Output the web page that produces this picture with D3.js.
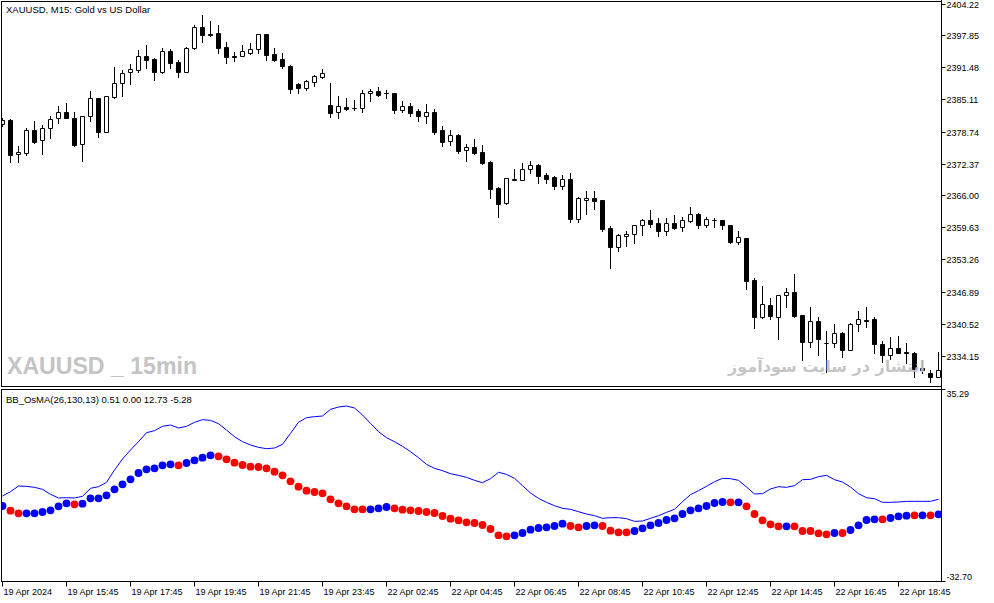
<!DOCTYPE html>
<html>
<head>
<meta charset="utf-8">
<script src="https://cdn.jsdelivr.net/npm/d3@7"></script>
<style>
  body { margin: 0; background: #ffffff; }
  text { font-family: "Liberation Sans", Arial, sans-serif; font-size: 9px; fill: #000; }
</style>
</head>
<body>
<div id="chart"></div>
<script>
// XAUUSD M15 candles, 19 Apr 2024 13:45 .. 22 Apr 2024 19:00
const openPrices = [
  2380.27, 2381.06, 2374.33, 2374.52, 2379.08, 2377.10, 2379.48, 2381.46, 2382.65, 2381.46,
  2376.31, 2381.86, 2385.42, 2378.69, 2385.62, 2388.40, 2390.58, 2390.97, 2393.75, 2393.15,
  2390.58, 2394.74, 2392.56, 2390.58, 2395.33, 2399.50, 2398.11, 2398.31, 2395.53, 2393.75,
  2393.75, 2394.34, 2395.14, 2398.11, 2394.15, 2393.15, 2391.77, 2388.20, 2387.41, 2388.60,
  2389.59, 2384.04, 2382.65, 2383.64, 2383.44, 2383.44, 2386.42, 2386.81, 2386.42, 2386.42,
  2383.05, 2383.84, 2382.85, 2381.86, 2382.65, 2379.08, 2376.90, 2378.09, 2375.12, 2375.71,
  2374.72, 2372.74, 2367.59, 2364.41, 2369.17, 2369.17, 2371.35, 2372.14, 2370.16, 2369.77,
  2367.98, 2369.37, 2361.24, 2365.01, 2365.60, 2365.01, 2359.46, 2355.69, 2357.88, 2358.27,
  2360.06, 2361.05, 2360.45, 2358.87, 2360.45, 2359.66, 2360.85, 2362.24, 2360.06, 2361.05,
  2361.05, 2360.06, 2356.69, 2357.48, 2349.15, 2341.82, 2344.20, 2341.82, 2346.18, 2346.78,
  2342.22, 2336.87, 2341.03, 2336.67, 2336.67, 2338.65, 2335.28, 2340.43, 2341.23, 2341.42,
  2336.47, 2334.29, 2335.68, 2334.89, 2334.69, 2331.71, 2330.72, 2329.93
];
const highPrices = [
  2381.46, 2381.26, 2375.91, 2379.48, 2380.87, 2380.07, 2381.86, 2383.84, 2384.43, 2382.65,
  2381.86, 2386.81, 2385.50, 2385.82, 2391.57, 2390.97, 2392.16, 2394.94, 2395.93, 2393.35,
  2395.33, 2395.14, 2392.96, 2395.53, 2399.89, 2401.88, 2400.69, 2399.89, 2396.52, 2394.54,
  2395.93, 2396.33, 2398.20, 2398.20, 2395.33, 2394.34, 2391.96, 2388.40, 2388.99, 2389.98,
  2391.17, 2388.40, 2385.82, 2385.42, 2385.03, 2387.01, 2387.21, 2387.61, 2387.01, 2386.50,
  2384.83, 2384.43, 2383.24, 2384.23, 2383.24, 2379.88, 2379.08, 2378.20, 2376.31, 2377.30,
  2376.11, 2372.80, 2367.78, 2369.57, 2371.35, 2372.54, 2372.94, 2372.34, 2370.56, 2369.85,
  2370.16, 2370.56, 2365.80, 2366.99, 2366.99, 2365.10, 2359.86, 2358.27, 2358.87, 2360.06,
  2361.24, 2363.03, 2361.44, 2361.44, 2362.04, 2361.64, 2363.62, 2362.43, 2361.64, 2361.44,
  2361.10, 2360.10, 2358.87, 2357.55, 2349.55, 2347.96, 2345.59, 2346.18, 2347.57, 2350.34,
  2342.30, 2343.80, 2341.82, 2339.04, 2340.43, 2338.85, 2340.63, 2343.01, 2343.80, 2341.82,
  2337.06, 2337.86, 2338.05, 2336.67, 2334.89, 2333.30, 2331.31, 2334.89
];
const lowPrices = [
  2379.88, 2372.74, 2372.74, 2374.13, 2376.51, 2374.33, 2377.50, 2380.47, 2381.46, 2375.91,
  2372.94, 2380.87, 2377.69, 2378.60, 2385.42, 2385.82, 2388.20, 2390.58, 2391.37, 2388.99,
  2390.38, 2391.37, 2389.59, 2390.50, 2395.14, 2396.52, 2397.71, 2394.34, 2392.36, 2392.76,
  2393.70, 2394.15, 2394.34, 2392.96, 2392.80, 2391.37, 2386.42, 2386.42, 2387.01, 2387.80,
  2389.39, 2381.66, 2381.46, 2383.05, 2383.05, 2382.65, 2384.83, 2385.82, 2385.42, 2382.45,
  2382.65, 2381.86, 2380.87, 2380.47, 2378.29, 2375.91, 2376.11, 2374.52, 2372.94, 2374.33,
  2372.34, 2365.60, 2361.64, 2364.30, 2369.10, 2369.10, 2370.56, 2368.58, 2368.58, 2367.39,
  2367.39, 2360.65, 2360.65, 2362.24, 2363.23, 2358.87, 2351.53, 2354.90, 2355.89, 2356.49,
  2358.07, 2359.66, 2357.88, 2358.07, 2359.26, 2358.87, 2360.65, 2359.46, 2359.66, 2359.66,
  2359.26, 2356.60, 2356.29, 2347.37, 2339.64, 2341.70, 2341.42, 2337.46, 2343.80, 2341.82,
  2333.30, 2335.87, 2334.29, 2330.92, 2335.87, 2333.89, 2335.20, 2339.04, 2339.84, 2334.69,
  2332.90, 2333.50, 2334.60, 2332.70, 2329.93, 2330.72, 2328.94, 2329.85
];
const closePrices = [
  2381.06, 2374.13, 2374.72, 2379.08, 2376.70, 2379.48, 2381.26, 2382.65, 2381.46, 2376.11,
  2381.86, 2385.42, 2378.69, 2385.82, 2388.40, 2390.38, 2391.17, 2393.75, 2392.96, 2390.58,
  2394.74, 2392.36, 2390.58, 2395.33, 2399.50, 2397.91, 2397.91, 2395.33, 2393.55, 2393.55,
  2394.74, 2395.14, 2398.11, 2393.95, 2392.96, 2391.77, 2387.21, 2387.41, 2388.79, 2389.79,
  2390.38, 2382.45, 2383.84, 2383.24, 2383.44, 2386.42, 2386.81, 2386.02, 2386.42, 2383.05,
  2383.84, 2382.45, 2381.86, 2382.65, 2378.69, 2376.70, 2378.09, 2374.92, 2375.71, 2374.52,
  2372.54, 2367.39, 2364.22, 2369.57, 2369.20, 2371.35, 2372.14, 2369.96, 2369.37, 2367.98,
  2369.37, 2361.24, 2365.60, 2365.60, 2364.81, 2359.26, 2355.69, 2358.07, 2358.27, 2360.06,
  2361.05, 2360.25, 2358.87, 2360.45, 2359.46, 2361.05, 2362.24, 2360.06, 2361.24, 2361.05,
  2360.06, 2356.69, 2357.68, 2348.95, 2341.82, 2344.40, 2342.02, 2346.18, 2346.78, 2342.02,
  2336.87, 2341.03, 2337.46, 2336.67, 2338.65, 2335.28, 2340.43, 2341.42, 2341.03, 2336.47,
  2334.29, 2335.68, 2334.69, 2334.69, 2331.51, 2331.31, 2329.93, 2331.31
];

// BB_OsMA indicator buffers
const osmaValues = [
  -6.28, -8.02, -9.01, -9.01, -9.01, -8.51, -7.89, -6.40, -5.29, -5.66,
  -5.41, -3.43, -3.43, -2.31, -0.08, 1.78, 3.64, 6.00, 7.37, 7.74,
  8.85, 9.23, 8.85, 9.72, 10.71, 11.71, 12.57, 12.20, 11.09, 9.85,
  8.98, 8.36, 8.23, 7.74, 6.50, 5.13, 2.90, 0.91, -0.57, -1.07,
  -1.57, -3.80, -5.29, -6.40, -7.52, -7.52, -7.52, -7.15, -6.65, -7.15,
  -7.65, -7.89, -8.14, -8.51, -8.89, -10.00, -10.99, -11.61, -12.36, -12.61,
  -13.35, -14.84, -17.20, -17.57, -17.20, -16.33, -15.09, -14.47, -14.22, -13.72,
  -12.85, -13.72, -14.22, -13.72, -13.48, -13.72, -15.46, -16.08, -16.08, -15.58,
  -14.59, -13.48, -12.61, -11.49, -10.87, -9.26, -7.89, -7.15, -6.28, -5.16,
  -4.79, -4.92, -4.92, -6.40, -9.26, -11.61, -13.10, -13.85, -13.85, -13.85,
  -15.58, -15.58, -16.45, -16.82, -16.33, -16.33, -15.21, -13.48, -11.49, -11.24,
  -11.24, -10.75, -10.13, -9.88, -9.75, -9.75, -9.75, -9.38
];
// colour index: 0 = rising (blue), 1 = falling (red)
const osmaColorIndex = [
  0, 1, 1, 0, 0, 0, 0, 0, 0, 1,
  0, 0, 0, 0, 0, 0, 0, 0, 0, 0,
  0, 0, 1, 0, 0, 0, 0, 1, 1, 1,
  1, 1, 1, 1, 1, 1, 1, 1, 1, 1,
  1, 1, 1, 1, 1, 1, 0, 0, 0, 1,
  1, 1, 1, 1, 1, 1, 1, 1, 1, 1,
  1, 1, 1, 1, 0, 0, 0, 0, 0, 0,
  0, 1, 1, 0, 0, 1, 1, 1, 1, 0,
  0, 0, 0, 0, 0, 0, 0, 0, 0, 0,
  0, 1, 0, 1, 1, 1, 1, 1, 0, 1,
  1, 1, 1, 1, 0, 1, 0, 0, 0, 0,
  1, 0, 0, 0, 1, 0, 1, 0
];
const upperBand = [
  -2.56, -0.95, 1.16, 1.04, 0.67, -0.08, -1.94, -3.30, -3.18, -3.30,
  -2.68, 0.29, 0.91, 2.53, 7.12, 11.21, 14.56, 17.66, 21.01, 21.76,
  23.37, 23.86, 22.75, 23.37, 24.86, 25.85, 25.60, 24.36, 22.00, 19.52,
  17.66, 16.42, 15.55, 15.06, 15.30, 16.67, 20.76, 24.86, 26.59, 26.97,
  27.21, 29.69, 30.56, 30.93, 30.19, 27.59, 24.48, 21.38, 19.15, 17.66,
  15.93, 13.94, 11.71, 9.23, 7.74, 6.87, 5.75, 5.13, 4.39, 3.27,
  2.40, 3.89, 6.25, 5.50, 4.02, 1.29, -1.44, -3.43, -4.92, -6.16,
  -7.15, -7.52, -8.39, -9.26, -9.88, -10.87, -10.62, -10.62, -10.99, -11.99,
  -11.86, -10.87, -9.88, -8.64, -7.52, -4.67, -2.06, -0.57, 1.04, 2.77,
  4.02, 3.89, 3.27, 0.79, -1.81, -1.69, 0.05, 0.91, 0.67, 1.29,
  3.52, 3.64, 4.64, 5.13, 3.52, 2.65, 0.79, -1.69, -3.18, -3.55,
  -4.92, -4.92, -4.79, -4.54, -4.54, -4.54, -4.54, -3.80
];

const priceTicks = [2404.22, 2397.85, 2391.48, 2385.11, 2378.74, 2372.37, 2366.00, 2359.63, 2353.26, 2346.89, 2340.52, 2334.15];
const osmaTicks = [35.29, -32.70];
const timeTickBars = [0, 8, 16, 24, 32, 40, 48, 56, 64, 72, 80, 88, 96, 104, 112];
const timeTickLabels = [
  "19 Apr 2024", "19 Apr 15:45", "19 Apr 17:45", "19 Apr 19:45", "19 Apr 21:45",
  "19 Apr 23:45", "22 Apr 02:45", "22 Apr 04:45", "22 Apr 06:45", "22 Apr 08:45",
  "22 Apr 10:45", "22 Apr 12:45", "22 Apr 14:45", "22 Apr 16:45", "22 Apr 18:45"
];

const width = 994;
const height = 603;
const n = openPrices.length;
const candles = d3.range(n).map((i) => ({
  i: i, open: openPrices[i], high: highPrices[i], low: lowPrices[i], close: closePrices[i]
}));

// panels
const left = 1.5, right = 941.5;
const mainTop = 1.5, mainBottom = 386.5;
const indTop = 389.5, indBottom = 581.5;

const x = d3.scaleLinear().domain([0, n - 1]).range([2.5, 2.5 + 8 * (n - 1)]);
const y = d3.scaleLinear().domain([2334.15, 2404.22]).range([355.5, 3.5]);
const yInd = d3.scaleLinear().domain([-32.70, 35.29]).range([577, 394.3]);
const crisp = (v) => Math.round(v) + 0.5;

const svg = d3.select("#chart").append("svg")
  .attr("width", width)
  .attr("height", height)
  .attr("viewBox", [0, 0, width, height]);

const defs = svg.append("defs");
defs.append("clipPath").attr("id", "clip-main")
  .append("rect").attr("x", 2).attr("y", 2).attr("width", right - 2.5).attr("height", mainBottom - 2.5);
defs.append("clipPath").attr("id", "clip-ind")
  .append("rect").attr("x", 2).attr("y", indTop + 0.5).attr("width", right - 2.5).attr("height", indBottom - indTop - 1);

// watermark (left)
svg.append("text")
  .attr("x", 7)
  .attr("y", 373.5)
  .attr("textLength", 190)
  .attr("lengthAdjust", "spacingAndGlyphs")
  .style("font-size", "24px")
  .style("font-weight", "bold")
  .style("fill", "#c4c4c4")
  .text("XAUUSD _ 15min");

// candles
const gCandles = svg.append("g").attr("clip-path", "url(#clip-main)");
const candle = gCandles.selectAll("g.candle").data(candles).join("g").attr("class", "candle");

candle.append("line")
  .attr("x1", (d) => x(d.i))
  .attr("x2", (d) => x(d.i))
  .attr("y1", (d) => Math.round(y(d.high)))
  .attr("y2", (d) => Math.round(y(d.low)) + 1)
  .attr("stroke", "#000")
  .attr("stroke-width", 1);

candle.append("path")
  .attr("d", (d) => {
    const y0 = crisp(y(Math.max(d.open, d.close)));
    const y1 = crisp(y(Math.min(d.open, d.close)));
    const cx = x(d.i);
    return `M${cx - 2},${y0}H${cx + 2}V${y1}H${cx - 2}Z`;
  })
  .attr("fill", (d) => (d.close < d.open ? "#000" : "#fff"))
  .attr("stroke", "#000")
  .attr("stroke-width", 1);

// watermark (right, Persian) - sized to span about 197px
const persian = svg.append("text")
  .attr("x", 925)
  .attr("y", 372)
  .attr("direction", "rtl")
  .attr("text-anchor", "start")
  .style("font-family", "'DejaVu Sans', sans-serif")
  .style("font-size", "19px")
  .style("font-weight", "bold")
  .style("fill", "#c0c0c0")
  .style("fill-opacity", 0.92)
  .text("انتشار در سایت سودآموز");
const natural = persian.node().getComputedTextLength();
if (natural > 0) persian.style("font-size", (19 * 197 / natural).toFixed(2) + "px");

// indicator
const gInd = svg.append("g").attr("clip-path", "url(#clip-ind)");

gInd.append("path")
  .datum(upperBand)
  .attr("fill", "none")
  .attr("stroke", "#0000ff")
  .attr("stroke-width", 1)
  .attr("d", d3.line().x((d, i) => x(i)).y((d) => yInd(d)));

gInd.selectAll("circle")
  .data(osmaValues)
  .join("circle")
  .attr("cx", (d, i) => x(i))
  .attr("cy", (d) => yInd(d))
  .attr("r", 3.9)
  .attr("fill", (d, i) => (osmaColorIndex[i] === 1 ? "#ff0000" : "#0000ff"));

// frames
svg.append("rect")
  .attr("x", left).attr("y", mainTop)
  .attr("width", right - left).attr("height", mainBottom - mainTop)
  .attr("fill", "none").attr("stroke", "#000");
svg.append("rect")
  .attr("x", left).attr("y", indTop)
  .attr("width", right - left).attr("height", indBottom - indTop)
  .attr("fill", "none").attr("stroke", "#000");
svg.append("line")
  .attr("x1", right).attr("x2", right)
  .attr("y1", 0).attr("y2", indBottom + 0.5)
  .attr("stroke", "#000");

// price axis
const gPrice = svg.append("g");
priceTicks.forEach((p) => {
  const ty = crisp(y(p));
  gPrice.append("line").attr("x1", right).attr("x2", right + 4).attr("y1", ty).attr("y2", ty).attr("stroke", "#000");
  gPrice.append("text").attr("x", right + 5).attr("y", ty).attr("dy", "0.35em").text(p.toFixed(2));
});

// indicator axis
osmaTicks.forEach((v) => {
  const ty = yInd(v);
  const edge = v > 0 ? indTop : indBottom;
  gPrice.append("line").attr("x1", right).attr("x2", right + 4).attr("y1", edge).attr("y2", edge).attr("stroke", "#000");
  gPrice.append("text").attr("x", right + 5).attr("y", ty).attr("dy", "0.35em").text(v.toFixed(2));
});

// time axis
const gTime = svg.append("g");
timeTickBars.forEach((b, k) => {
  const tx = x(b);
  gTime.append("line").attr("x1", tx).attr("x2", tx).attr("y1", indBottom).attr("y2", indBottom + 5).attr("stroke", "#000");
  gTime.append("text").attr("x", tx + 1).attr("y", 595).text(timeTickLabels[k]);
});

// titles
svg.append("text").attr("x", 6).attr("y", 13).style("font-size", "9.5px").text("XAUUSD, M15:  Gold vs US Dollar");
svg.append("text").attr("x", 6).attr("y", 402.5).style("font-size", "9.5px").text("BB_OsMA(26,130,13) 0.51 0.00 12.73 -5.28");
</script>
</body>
</html>
